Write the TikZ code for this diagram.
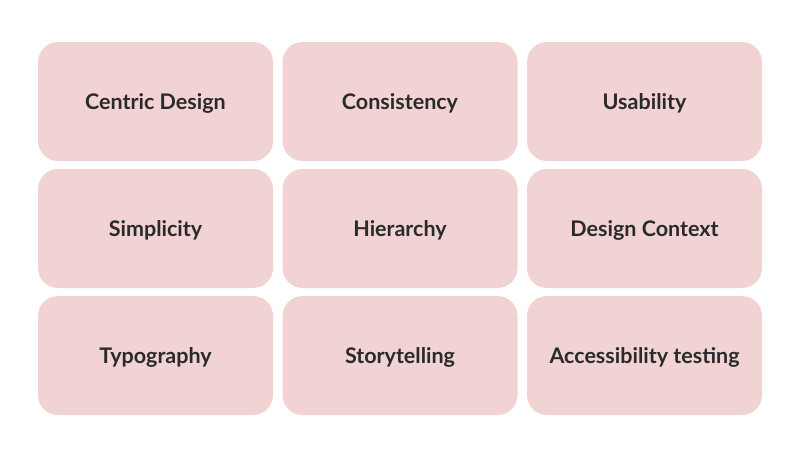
\documentclass[tikz,border=0pt]{standalone}
\usepackage{fontspec}
\setmainfont{Lato}
\definecolor{boxfill}{HTML}{F2D3D3}
\definecolor{boxtext}{HTML}{2A2A2A}
\begin{document}
\begin{tikzpicture}[x=1pt,y=-1pt,
  cell/.style={fill=boxfill,draw=none,rounded corners=20pt,minimum width=235pt,minimum height=119pt,inner sep=0pt,
    font=\fontsize{21.5}{24}\selectfont\bfseries,text=boxtext,anchor=center,text depth=0pt,text height=0pt},
  lbl/.style={font=\fontsize{21.5}{24}\selectfont\bfseries,text=boxtext,anchor=base,inner sep=0pt}]
\useasboundingbox (0,0) rectangle (800,458);
\def\cA{155.5}\def\cB{400}\def\cC{644.5}
\def\rA{101.5}\def\rB{228.5}\def\rC{355.5}
\foreach \n/\x/\y/\t in {n1/\cA/\rA/Centric Design, n2/\cB/\rA/Consistency, n3/\cC/\rA/Usability,
  n4/\cA/\rB/Simplicity, n5/\cB/\rB/Hierarchy, n6/\cC/\rB/Design Context,
  n7/\cA/\rC/Typography, n8/\cB/\rC/Storytelling, n9/\cC/\rC/Accessibility testing}{
  \node[fill=boxfill,rounded corners=20pt,minimum width=235pt,minimum height=119pt,inner sep=0pt] (\n) at (\x,\y) {};
  \node[lbl] (\n t) at ([yshift=-7.5pt]\n.center) {\t};
}
\end{tikzpicture}
\end{document}
